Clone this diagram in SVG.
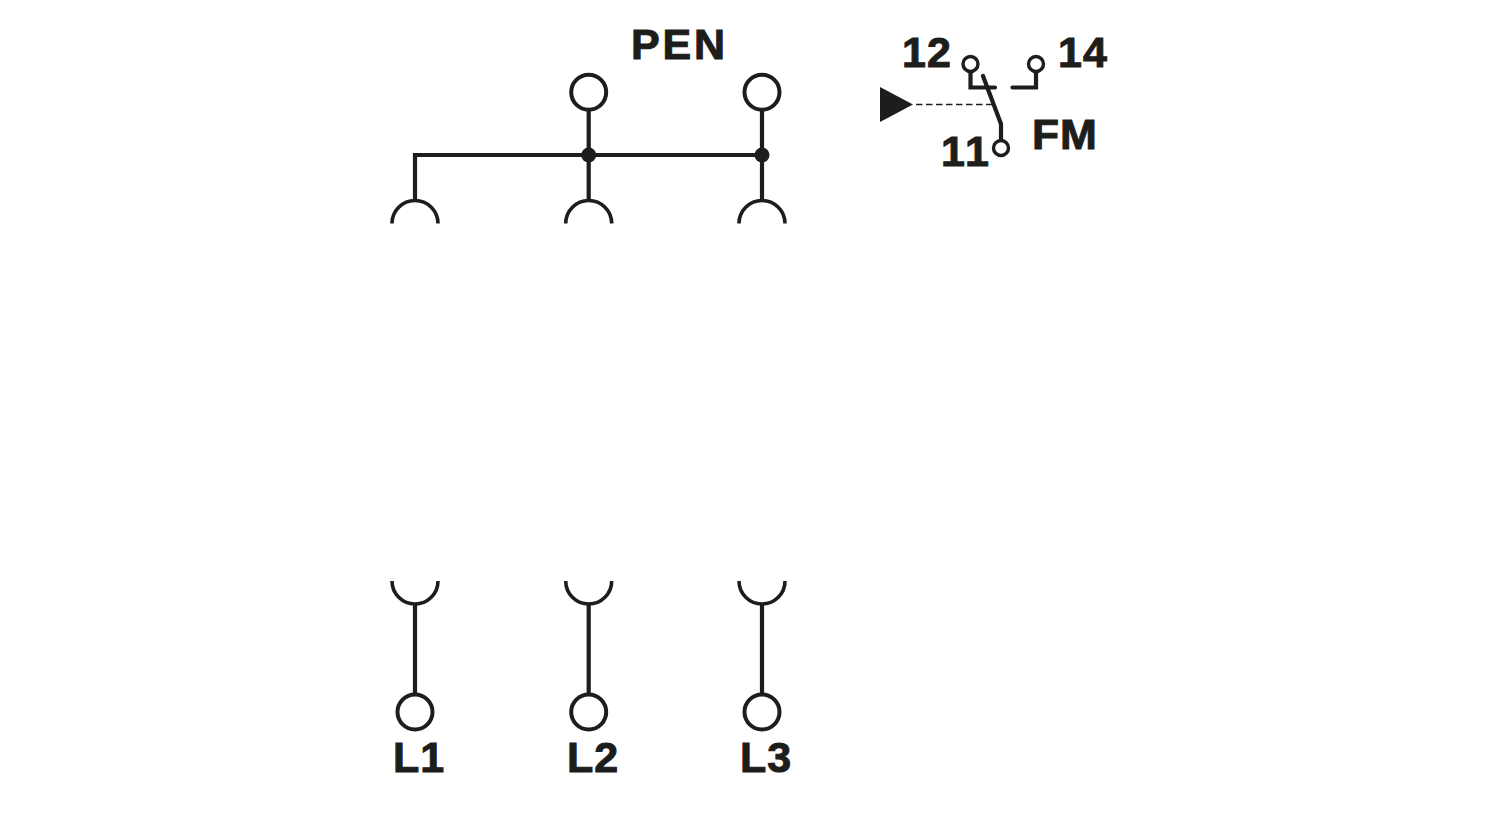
<svg xmlns="http://www.w3.org/2000/svg" width="1500" height="820" viewBox="0 0 1500 820">
<style>
.w{fill:none;stroke:#1d1d1b;stroke-width:4.2}
.a{fill:none;stroke:#1d1d1b;stroke-width:3.6}
.t{fill:#fff;stroke:#1d1d1b;stroke-width:4}
.s{fill:#fff;stroke:#1d1d1b;stroke-width:3.4}
.d{fill:#1d1d1b}
text{font-family:"Liberation Sans",Arial,sans-serif;font-weight:bold;font-size:43px;fill:#1d1d1b;stroke:#1d1d1b;stroke-width:1;font-kerning:none;letter-spacing:1px}
</style>
<rect width="1500" height="820" fill="#fff"/>
<g id="connectors">
<path class="w" d="M415 200V155H762"/>
<path class="w" d="M588.700 110V200M762 110V200"/>
<path class="w" d="M415 604V694M588.700 604V694M762 604V694"/>
<path class="a" d="M392 223.500A23 23 0 0 1 438 223.500M565.700 223.500A23 23 0 0 1 611.700 223.500M739 223.500A23 23 0 0 1 785 223.500"/>
<path class="a" d="M392 581A23 23 0 0 0 438 581M565.700 581A23 23 0 0 0 611.700 581M739 581A23 23 0 0 0 785 581"/>
<path class="w" stroke-linecap="round" d="M970.500 71V87.500H995M1012.500 87.500H1036V71M983 76L1001 124V140"/>
<path fill="none" stroke="#1d1d1b" stroke-width="1.600" stroke-dasharray="6.500 3.500" d="M916 104.500H994"/>
</g>
<g id="PEN-node"><text x="631" y="59" textLength="95" lengthAdjust="spacing">PEN</text></g>
<g id="pen-terminal-1"><circle class="t" cx="588.700" cy="92.300" r="17.500"/><circle class="d" cx="588.700" cy="155" r="7.500"/></g>
<g id="pen-terminal-2"><circle class="t" cx="762" cy="92.300" r="17.500"/><circle class="d" cx="762" cy="155" r="7.500"/></g>
<g id="L1"><circle class="t" cx="415" cy="712" r="17.500"/><text x="393" y="772">L1</text></g>
<g id="L2"><circle class="t" cx="588.700" cy="712" r="17.500"/><text x="567" y="772">L2</text></g>
<g id="L3"><circle class="t" cx="762" cy="712" r="17.500"/><text x="740" y="772">L3</text></g>
<g id="contact-12"><circle class="s" cx="970.500" cy="64" r="7.500"/><text x="902" y="67">12</text></g>
<g id="contact-14"><circle class="s" cx="1036" cy="64" r="7.500"/><text x="1058" y="67">14</text></g>
<g id="contact-11"><circle class="s" cx="1001" cy="148" r="7.500"/><text x="941" y="166" style="letter-spacing:0">11</text></g>
<g id="FM"><text x="1032" y="149" textLength="66" lengthAdjust="spacingAndGlyphs">FM</text></g>
<g id="actuator"><path class="d" d="M880 87L913 104.500L880 122Z"/></g>
</svg>
